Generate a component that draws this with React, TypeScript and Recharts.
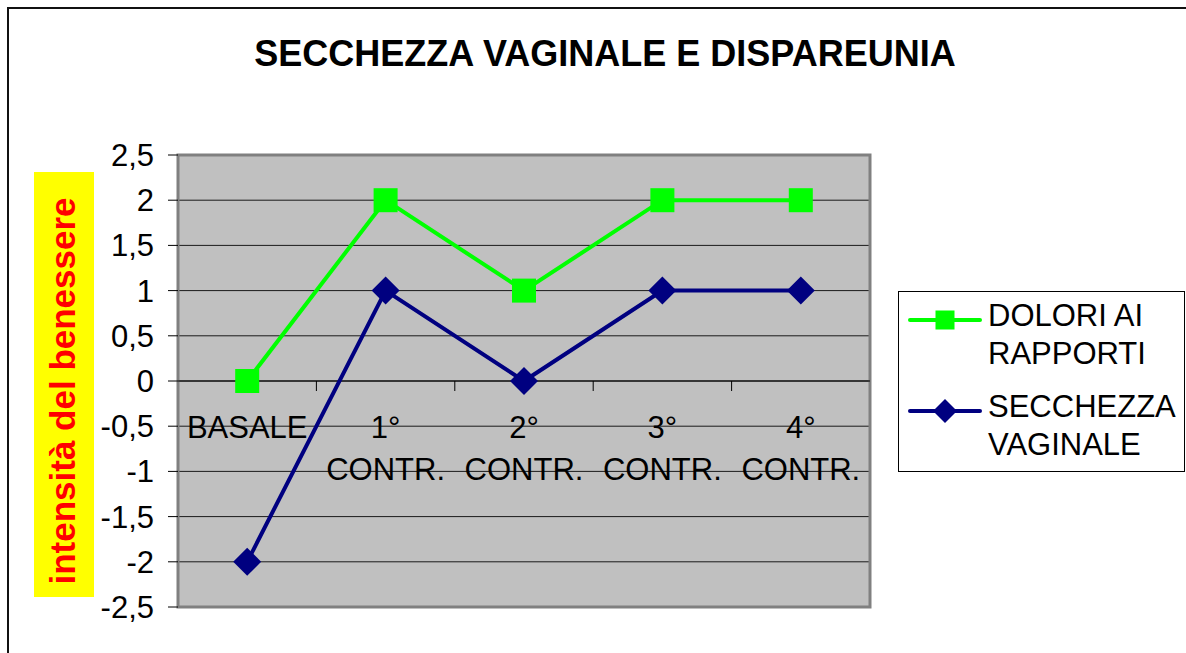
import React from 'react';
import { LineChart, Line, XAxis, YAxis, CartesianGrid, ReferenceLine, ReferenceArea } from 'recharts';

const categories = ['BASALE', '1° CONTR.', '2° CONTR.', '3° CONTR.', '4° CONTR.'];
const doloriValues = [0, 2, 1, 2, 2];
const secchezzaValues = [-2, 1, 0, 1, 1];
const yTicks = [-2.5, -2, -1.5, -1, -0.5, 0, 0.5, 1, 1.5, 2, 2.5];
const seriesNames = ['DOLORI AI RAPPORTI', 'SECCHEZZA VAGINALE'];
const seriesColors = ['#00FF00', '#000080'];
const chartTitle = 'SECCHEZZA VAGINALE E DISPAREUNIA';
const yLabel = 'intensità del benessere';

const FONT = '"Liberation Sans", Arial, Helvetica, sans-serif';

const data = categories.map((c, i) => ({
  idx: i,
  cat: c,
  dolori: doloriValues[i],
  secchezza: secchezzaValues[i],
}));

const SquareDot = ({ cx, cy, size, color }: any) => {
  if (cx == null || cy == null) return null;
  return <rect x={cx - size / 2} y={cy - size / 2} width={size} height={size} fill={color} />;
};

const DiamondDot = ({ cx, cy, size, color }: any) => {
  if (cx == null || cy == null) return null;
  const h = size / 2;
  return (
    <polygon
      points={`${cx},${cy - h} ${cx + h},${cy} ${cx},${cy + h} ${cx - h},${cy}`}
      fill={color}
    />
  );
};

const ZeroAxis = ({ viewBox }: any) => {
  if (!viewBox) return null;
  const { x, y, width } = viewBox;
  const n = categories.length;
  const band = width / n;
  return (
    <g>
      {categories.slice(1).map((_, k) => (
        <line
          key={`t-${k}`}
          x1={x + (k + 1) * band}
          x2={x + (k + 1) * band}
          y1={y}
          y2={y + 10}
          stroke="#000"
          strokeWidth={1}
        />
      ))}
      {categories.map((c, i) => {
        const parts = c.split(' ');
        return (
          <text
            key={`l-${i}`}
            x={x + (i + 0.5) * band}
            y={y + 57}
            textAnchor="middle"
            fontSize={31}
            fontFamily={FONT}
            fill="#000"
          >
            {parts.map((p, j) => (
              <tspan key={j} x={x + (i + 0.5) * band} dy={j === 0 ? 0 : 42}>
                {p}
              </tspan>
            ))}
          </text>
        );
      })}
    </g>
  );
};

const YLabelBox = () => (
  <g>
    <rect x={34} y={172} width={60} height={425} fill="#FFFF00" />
    <text
      transform="translate(75, 391) rotate(-90)"
      textAnchor="middle"
      fontSize={35}
      fontWeight="bold"
      fontFamily={FONT}
      fill="#FF0000"
    >
      {yLabel}
    </text>
  </g>
);

const LegendSymbol = ({ index }: any) => {
  const color = seriesColors[index];
  return (
    <svg width={74} height={38} style={{ position: 'absolute', left: 9, top: 0 }}>
      <line x1={2} x2={72} y1={23} y2={23} stroke={color} strokeWidth={4} strokeLinecap="round" />
      {index === 0 ? (
        <SquareDot cx={37} cy={23} size={19} color={color} />
      ) : (
        <DiamondDot cx={37} cy={23} size={24} color={color} />
      )}
    </svg>
  );
};

export default function App() {
  return (
    <div
      style={{
        position: 'absolute',
        left: 0,
        top: 0,
        width: 1186,
        height: 653,
        overflow: 'hidden',
        background: '#fff',
        fontFamily: FONT,
      }}
    >
      <div
        style={{
          position: 'absolute',
          left: 7,
          top: 7,
          width: 1300,
          height: 800,
          border: '2px solid #111',
        }}
      />
      <div
        style={{
          position: 'absolute',
          left: 0,
          top: 36,
          width: 1210,
          textAlign: 'center',
          fontSize: 36,
          lineHeight: '36px',
          fontWeight: 'bold',
          color: '#000',
          whiteSpace: 'nowrap',
        }}
      >
        {chartTitle}
      </div>
      <div style={{ position: 'absolute', left: 0, top: 0 }}>
        <LineChart
          width={1186}
          height={653}
          data={data}
          margin={{ top: 155, right: 316, bottom: 46, left: 0 }}
        >
          <CartesianGrid vertical={false} stroke="#1a1a1a" fill="#C0C0C0" fillOpacity={1} />
          <XAxis
            dataKey="idx"
            type="number"
            domain={[-0.5, categories.length - 0.5]}
            hide
            height={0}
          />
          <YAxis
            type="number"
            domain={[yTicks[0], yTicks[yTicks.length - 1]]}
            ticks={yTicks}
            interval={0}
            width={178}
            axisLine={false}
            tickLine={{ stroke: '#000' }}
            tickSize={10}
            tickMargin={14}
            tick={{ fill: '#000', fontSize: 31, fontFamily: FONT }}
            tickFormatter={(v: number) => String(v).replace('.', ',')}
            label={{ content: () => <YLabelBox /> }}
          />
          <ReferenceArea
            x1={-0.5}
            x2={categories.length - 0.5}
            y1={yTicks[0]}
            y2={yTicks[yTicks.length - 1]}
            fill="none"
            fillOpacity={0}
            stroke="#808080"
            strokeWidth={3}
          />
          <ReferenceLine
            y={0}
            stroke="#000"
            strokeWidth={1}
            label={(p: any) => <ZeroAxis viewBox={p.viewBox} />}
          />
          <Line
            dataKey="dolori"
            name={seriesNames[0]}
            stroke={seriesColors[0]}
            strokeWidth={4}
            isAnimationActive={false}
            dot={(p: any) => (
              <SquareDot key={`sq-${p.index}`} cx={p.cx} cy={p.cy} size={24} color={seriesColors[0]} />
            )}
            activeDot={false}
          />
          <Line
            dataKey="secchezza"
            name={seriesNames[1]}
            stroke={seriesColors[1]}
            strokeWidth={4}
            isAnimationActive={false}
            dot={(p: any) => (
              <DiamondDot key={`dm-${p.index}`} cx={p.cx} cy={p.cy} size={28} color={seriesColors[1]} />
            )}
            activeDot={false}
          />
        </LineChart>
      </div>
      <div
        style={{
          position: 'absolute',
          left: 898,
          top: 291,
          width: 287,
          height: 181,
          boxSizing: 'border-box',
          border: '1px solid #000',
          background: '#fff',
        }}
      >
        {seriesNames.map((name, i) => (
          <div
            key={name}
            style={{ position: 'absolute', left: 0, top: 5 + i * 91, width: 285, height: 76 }}
          >
            <LegendSymbol index={i} />
            <div
              style={{
                position: 'absolute',
                left: 89,
                top: 0,
                width: 195,
                fontSize: 31,
                lineHeight: '38px',
                color: '#000',
              }}
            >
              {name}
            </div>
          </div>
        ))}
      </div>
    </div>
  );
}
